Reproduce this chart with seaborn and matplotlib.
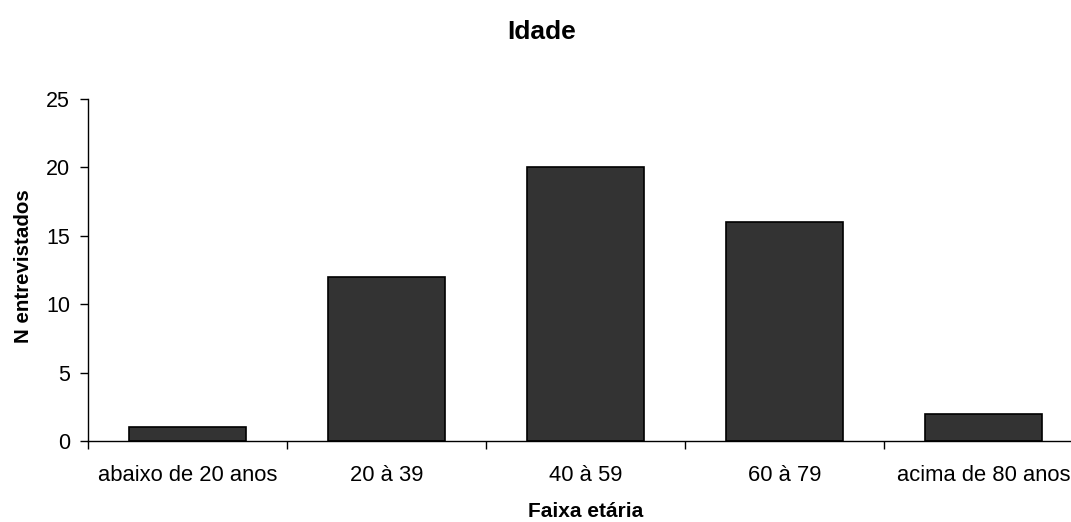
import matplotlib
matplotlib.use("Agg")
import matplotlib.pyplot as plt
import seaborn as sns
import pandas as pd

# Age-group survey counts
categories = ["abaixo de 20 anos", "20 à 39", "40 à 59", "60 à 79", "acima de 80 anos"]
counts = [1, 12, 20, 16, 2]

title = "Idade"
x_label = "Faixa etária"
y_label = "N entrevistados"

sns.set_style("ticks")
plt.rcParams["font.family"] = ["Liberation Sans", "DejaVu Sans"]
plt.rcParams["text.color"] = "black"
plt.rcParams["axes.labelcolor"] = "black"

df = pd.DataFrame({"faixa": categories, "n": counts})

W, H = 1071, 522
fig = plt.figure(figsize=(W / 100, H / 100), dpi=100)
ax_left, ax_right, ax_top, ax_bottom = 88, 1083, 99, 441
ax = fig.add_axes([ax_left / W, 1 - ax_bottom / H,
                   (ax_right - ax_left) / W, (ax_bottom - ax_top) / H])

sns.barplot(data=df, x="faixa", y="n", order=categories, color="#333333",
            saturation=1, width=0.59, edgecolor="black", linewidth=1.2, ax=ax)

ax.set_xlim(-0.5, len(categories) - 0.5)
ax.set_ylim(0, 25)
ax.set_yticks(range(0, 26, 5))

# category labels centred, tick marks on the boundaries between groups
ax.set_xticks(range(len(categories)))
ax.set_xticklabels(categories)
ax.set_xticks([i - 0.5 for i in range(len(categories) + 1)], minor=True)
ax.tick_params(axis="x", which="major", length=0, pad=17, labelsize=15.8, colors="black")
ax.tick_params(axis="x", which="minor", length=6, width=1, color="black")
ax.tick_params(axis="y", length=6, width=1, pad=7, labelsize=15.5, colors="black")

for side in ("top", "right"):
    ax.spines[side].set_visible(False)
for side in ("left", "bottom"):
    ax.spines[side].set_color("black")
    ax.spines[side].set_linewidth(1)

ax.set_xlabel(x_label, fontsize=15, fontweight="bold", va="top")
ax.xaxis.set_label_coords(0.5, -0.178)
ax.set_ylabel(y_label, fontsize=14.8, fontweight="bold")
ax.yaxis.set_label_coords(-0.055, 0.51)

fig.text(542 / W, 1 - 32 / H, title, ha="center", va="center",
         fontsize=19, fontweight="bold")

fig.savefig("out.png", dpi=100, facecolor="white")
